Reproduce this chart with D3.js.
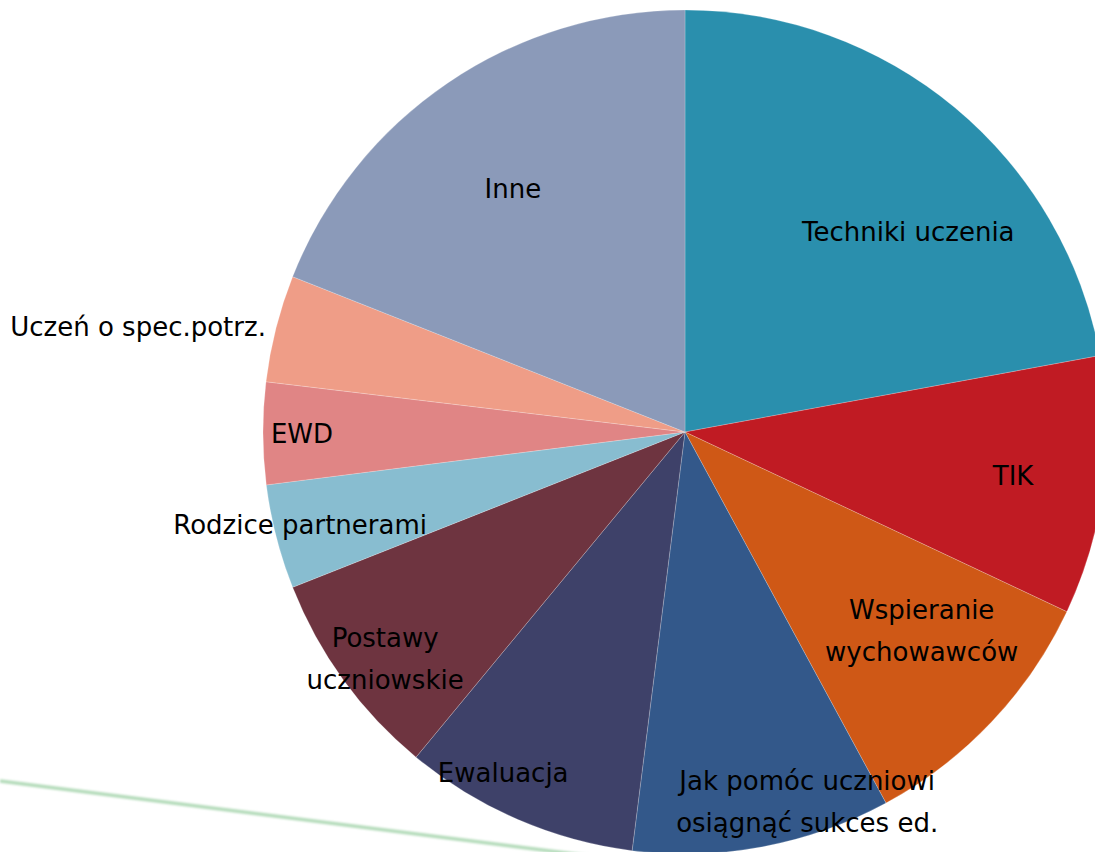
<!DOCTYPE html>
<html><head><meta charset="utf-8">
<script src="https://cdn.jsdelivr.net/npm/d3@7/dist/d3.min.js"></script>
<style>html,body{margin:0;padding:0;background:#fff;overflow:hidden}</style>
</head><body>
<svg id="c" width="1095" height="852"></svg>
<script>
const categories = ["Techniki uczenia","TIK","Wspieranie\nwychowawców","Jak pomóc uczniowi\nosiągnąć sukces ed.","Ewaluacja","Postawy\nuczniowskie","Rodzice partnerami","EWD","Uczeń o spec.potrz.","Inne"];
const values = [22.1, 9.9, 10.1, 9.9, 9.0, 8.0, 4.0, 3.9, 4.1, 19.0];
const colors = ["#2a8fad","#c01b23","#cf5816","#33588a","#3e4169","#6e3440","#88bdd0","#e08585","#ef9d87","#8b9ab9"];
// label placement: angle (deg, clockwise from top) and radius
const labelAngle = [48.1, 97.6, 130, 161.7, 208.1, 232.9, 256.4, 269.7, 280.9, 324.7];
const labelRadius = [300, 331, 309, 389, 386, 376, 396, 383, 557, 298];

const svg = d3.select("#c");
const cx = 685, cy = 432, R = 422;

// decorative green line
const defs = svg.append("defs");
defs.append("filter").attr("id","blur").append("feGaussianBlur").attr("stdDeviation",0.9);
const lineX = d3.scaleLinear().domain([0,1]).range([0,700]);
const lineY = d3.scaleLinear().domain([0,1]).range([781,870]);
svg.append("line").attr("x1",lineX(0)).attr("y1",lineY(0)).attr("x2",lineX(1)).attr("y2",lineY(1))
  .attr("stroke","#b4dbba").attr("stroke-width",3.5).attr("filter","url(#blur)");

const g = svg.append("g").attr("transform",`translate(${cx},${cy})`);
const pie = d3.pie().sort(null).value(d=>d)(values);
const arc = d3.arc().innerRadius(0).outerRadius(R);
g.selectAll("path").data(pie).join("path")
  .attr("d",arc).attr("fill",(d,i)=>colors[i])
  .attr("stroke","rgba(255,255,255,0.35)").attr("stroke-width",0.6);

const lh = 42;
categories.forEach((c,i)=>{
  const a = labelAngle[i]*Math.PI/180, r = labelRadius[i];
  const x = Math.sin(a)*r, y = -Math.cos(a)*r;
  const lines = c.split("\n");
  const t = g.append("text").attr("x",x).attr("y",y)
    .attr("text-anchor","middle").attr("font-family","DejaVu Sans, Verdana, sans-serif")
    .attr("font-size",26).attr("fill","#000");
  lines.forEach((l,k)=>{
    t.append("tspan").attr("x",x)
      .attr("y", y + (k - (lines.length-1)/2)*lh)
      .attr("dy","0.36em").text(l);
  });
});
</script>
</body></html>
